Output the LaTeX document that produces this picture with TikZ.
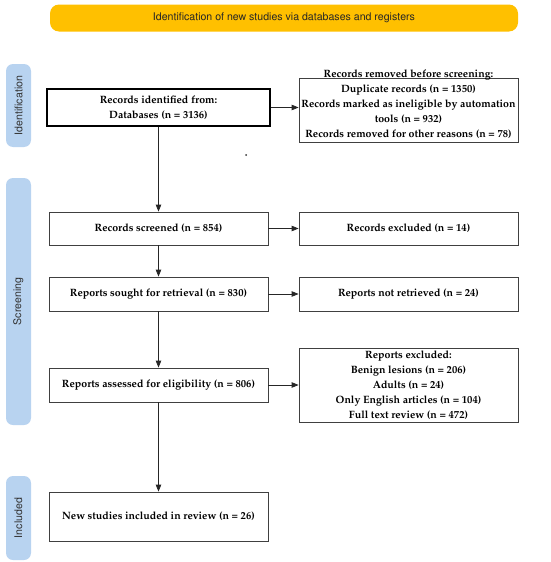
\documentclass[tikz,border=0pt]{standalone}
\usepackage[T1]{fontenc}
\usepackage{mathpazo}
\usepackage[scaled=0.92]{helvet}
\usetikzlibrary{arrows.meta}
\definecolor{bannerY}{HTML}{FFC000}
\definecolor{sideB}{HTML}{B8D3F0}
\definecolor{boxline}{HTML}{404040}
\begin{document}
\begin{tikzpicture}[x=1pt,y=1pt,
  flowbox/.style={draw=boxline, line width=0.8pt, fill=white, align=center, inner sep=2pt,
    font=\fontsize{10.6}{15}\selectfont\bfseries},
  boxtext/.style={align=center, inner sep=0pt, font=\fontsize{10.6}{15}\selectfont\bfseries},
  sidelabel/.style={fill=sideB, rounded corners=7pt, minimum height=25pt, inner sep=0pt,
    font=\fontsize{11.5}{13}\selectfont\sffamily, text=black!80},
  flowarrow/.style={draw=black!85, line width=0.8pt, -{Triangle[length=7pt,width=5.5pt]}}]
\useasboundingbox (0,0) rectangle (550,-562);
% banner
\node[fill=bannerY, rounded corners=9pt, minimum width=468pt, minimum height=27pt,
  font=\fontsize{11.5}{13}\selectfont\sffamily, text=black!85] (banner) at (284,-18)
  {Identification of new studies via databases and registers};
% side labels
\node[sidelabel, minimum width=83pt, rotate=90] (idlab) at (18.5,-105.5) {Identification};
\node[sidelabel, minimum width=247pt, rotate=90] (scrlab) at (18.5,-301.5) {Screening};
\node[sidelabel, minimum width=84pt, rotate=90] (inclab) at (18.5,-518) {Included};
% boxes
\node[flowbox, draw=black, line width=1.8pt, minimum width=223pt, minimum height=37pt] (rid) at (158.5,-107.5)
  {Records identified from:\\Databases (n = 3136)};
\node[flowbox, minimum width=219pt, minimum height=64pt] (rem) at (408.5,-110) {};
\node[boxtext] (remtxt) at (408.5,-104.5)
  {Records removed before screening:\\Duplicate records (n = 1350)\\Records marked as ineligible by automation\\tools (n = 932)\\Records removed for other reasons (n = 78)};
\node[flowbox, minimum width=219pt, minimum height=33pt] (scr) at (158.5,-228.5) {Records screened (n = 854)};
\node[flowbox, minimum width=219pt, minimum height=33pt] (exc) at (408.5,-228.5) {Records excluded (n = 14)};
\node[flowbox, minimum width=219pt, minimum height=34pt] (sought) at (158.5,-294) {Reports sought for retrieval (n = 830)};
\node[flowbox, minimum width=219pt, minimum height=34pt] (notret) at (408.5,-294) {Reports not retrieved (n = 24)};
\node[flowbox, minimum width=219pt, minimum height=34pt] (assess) at (158.5,-385) {Reports assessed for eligibility (n = 806)};
\node[flowbox, minimum width=219pt, minimum height=74pt, inner sep=0pt] (repexc) at (408.5,-385)
  {Reports excluded:\\Benign lesions (n = 206)\\Adults (n = 24)\\Only English articles (n = 104)\\Full text review (n = 472)};
\node[flowbox, minimum width=219pt, minimum height=49pt] (newst) at (158.5,-516.5) {New studies included in review (n = 26)};
% stray dot
\fill[black!80] (246,-155) circle (1pt);
% arrows
\draw[flowarrow] (rid.east) -- (rem.west |- rid.east);
\draw[flowarrow] (rid.south) -- (scr.north);
\draw[flowarrow] (scr.east) -- (exc.west);
\draw[flowarrow] (scr.south) -- (sought.north);
\draw[flowarrow] (sought.east) -- (notret.west);
\draw[flowarrow] (sought.south) -- (assess.north);
\draw[flowarrow] (assess.east) -- (repexc.west);
\draw[flowarrow] (assess.south) -- (newst.north);
\end{tikzpicture}
\end{document}
